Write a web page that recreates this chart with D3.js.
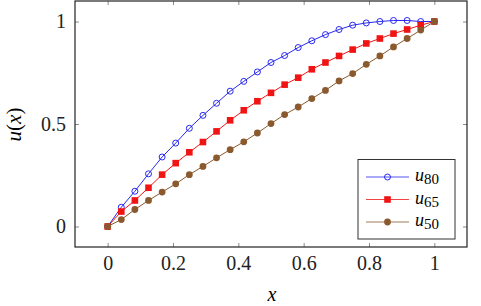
<!DOCTYPE html>
<html>
<head>
<meta charset="utf-8">
<script src="https://cdn.jsdelivr.net/npm/d3@7"></script>
<style>
  body { margin: 0; background: #fff; }
  svg text { font-family: "Times New Roman", "Liberation Serif", "DejaVu Serif", serif; }
</style>
</head>
<body>
<svg id="chart" width="481" height="306"></svg>
<script>
// data
var xVals = [0, 0.0417, 0.0833, 0.125, 0.1667, 0.2083, 0.25, 0.2917, 0.3333, 0.375, 0.4167, 0.4583,
             0.5, 0.5417, 0.5833, 0.625, 0.6667, 0.7083, 0.75, 0.7917, 0.8333, 0.875, 0.9167, 0.9583, 1];
var u80 = [0, 0.094, 0.172, 0.257, 0.339, 0.407, 0.479, 0.542, 0.601, 0.66, 0.708, 0.754,
           0.8, 0.834, 0.873, 0.906, 0.936, 0.961, 0.982, 0.993, 1.0, 1.005, 1.005, 1.0, 1.0];
var u65 = [0, 0.073, 0.127, 0.189, 0.253, 0.309, 0.362, 0.412, 0.464, 0.518, 0.567, 0.611,
           0.652, 0.692, 0.726, 0.767, 0.8, 0.832, 0.863, 0.893, 0.917, 0.941, 0.961, 0.982, 1.0];
var u50 = [0, 0.034, 0.083, 0.127, 0.168, 0.208, 0.253, 0.293, 0.335, 0.375, 0.413, 0.456,
           0.502, 0.546, 0.583, 0.624, 0.664, 0.71, 0.746, 0.791, 0.832, 0.876, 0.917, 0.958, 1.0];
var xTicks = [0, 0.2, 0.4, 0.6, 0.8, 1];
var yTicks = [0, 0.5, 1];
var seriesNames = ["80", "65", "50"];

var svg = d3.select("#chart");
var mLeft = 75, mRight = 467, mTop = 1, mBottom = 247;
var serif = "Times New Roman, Liberation Serif, DejaVu Serif, serif";

var x = d3.scaleLinear().domain([-0.1, 1.1]).range([mLeft, mRight]);
var y = d3.scaleLinear().domain([-0.1, 1.1]).range([mBottom, mTop]);

var fmt = function(d) { return d3.format("")(d) };

// axes: ticks pointing inward on all four sides
function styleAxis(g, labels) {
  g.attr("font-family", serif).attr("font-size", 20);
  g.select(".domain").remove();
  g.selectAll(".tick line").attr("stroke", "#8a8a8a").attr("stroke-width", 1);
  g.selectAll(".tick text").attr("fill", "#222");
  if (!labels) g.selectAll(".tick text").remove();
}
svg.append("g").attr("transform", "translate(0," + mBottom + ")")
  .call(d3.axisBottom(x).tickValues(xTicks).tickFormat(fmt).tickSizeInner(-4).tickSizeOuter(0).tickPadding(9))
  .call(styleAxis, true);
svg.append("g").attr("transform", "translate(0," + mTop + ")")
  .call(d3.axisTop(x).tickValues(xTicks).tickSizeInner(-4).tickSizeOuter(0))
  .call(styleAxis, false);
svg.append("g").attr("transform", "translate(" + mLeft + ",0)")
  .call(d3.axisLeft(y).tickValues(yTicks).tickFormat(fmt).tickSizeInner(-4).tickSizeOuter(0).tickPadding(9))
  .call(styleAxis, true);
svg.append("g").attr("transform", "translate(" + mRight + ",0)")
  .call(d3.axisRight(y).tickValues(yTicks).tickSizeInner(-4).tickSizeOuter(0))
  .call(styleAxis, false);

// frame
svg.append("rect")
  .attr("x", mLeft).attr("y", mTop)
  .attr("width", mRight - mLeft).attr("height", mBottom - mTop)
  .attr("fill", "none").attr("stroke", "#222").attr("stroke-width", 1.2);

// axis labels
svg.append("text")
  .attr("x", (mLeft + mRight) / 2 + 1).attr("y", 301)
  .attr("text-anchor", "middle")
  .attr("font-family", serif)
  .style("font-size", "20px").style("font-style", "italic")
  .text("x");
svg.append("text")
  .attr("transform", "translate(21," + (y(0.5) + 0.5) + ") rotate(-90)")
  .attr("text-anchor", "middle")
  .attr("font-family", serif)
  .style("font-size", "21px")
  .html('<tspan font-style="italic">u</tspan>(<tspan font-style="italic">x</tspan>)');

var series = [
  { name: seriesNames[0], values: u80, color: "#2828f0", marker: "ocircle" },
  { name: seriesNames[1], values: u65, color: "#f01414", marker: "square" },
  { name: seriesNames[2], values: u50, color: "#8a5a2e", marker: "circle" }
];

var line = d3.line()
  .x(function(d, i) { return x(xVals[i]) })
  .y(function(d) { return y(d) });

function drawMarker(g, kind, color, cx, cy) {
  if (kind == "ocircle") {
    g.append("circle").attr("cx", cx).attr("cy", cy).attr("r", 3)
      .attr("fill", "none").attr("stroke", color).attr("stroke-width", 1);
  } else if (kind == "square") {
    g.append("rect").attr("x", cx - 3.3).attr("y", cy - 3.3)
      .attr("width", 6.6).attr("height", 6.6).attr("fill", color);
  } else {
    g.append("circle").attr("cx", cx).attr("cy", cy).attr("r", 3.4).attr("fill", color);
  }
}

series.forEach(function(s) {
  var g = svg.append("g");
  g.append("path")
    .datum(s.values)
    .attr("d", line)
    .attr("fill", "none")
    .attr("stroke", s.color)
    .attr("stroke-width", 1);
  s.values.forEach(function(v, i) {
    drawMarker(g, s.marker, s.color, x(xVals[i]), y(v));
  });
});

// legend
var lg = svg.append("g");
lg.append("rect")
  .attr("x", 358).attr("y", 159.5).attr("width", 97).attr("height", 79.5)
  .attr("fill", "#fff").attr("stroke", "#333").attr("stroke-width", 1);
series.forEach(function(s, i) {
  var ly = 177 + i * 22.5;
  lg.append("line")
    .attr("x1", 366).attr("x2", 409).attr("y1", ly).attr("y2", ly)
    .attr("stroke", s.color).attr("stroke-opacity", 0.8).attr("stroke-width", 1);
  drawMarker(lg, s.marker, s.color, 387.5, ly);
  var t = lg.append("text").attr("x", 415).attr("y", ly + 4)
    .attr("font-family", serif).style("font-size", "18px");
  t.append("tspan").style("font-style", "italic").text("u");
  t.append("tspan").attr("dy", 3).style("font-size", "15px").text(s.name);
});
</script>
</body>
</html>
